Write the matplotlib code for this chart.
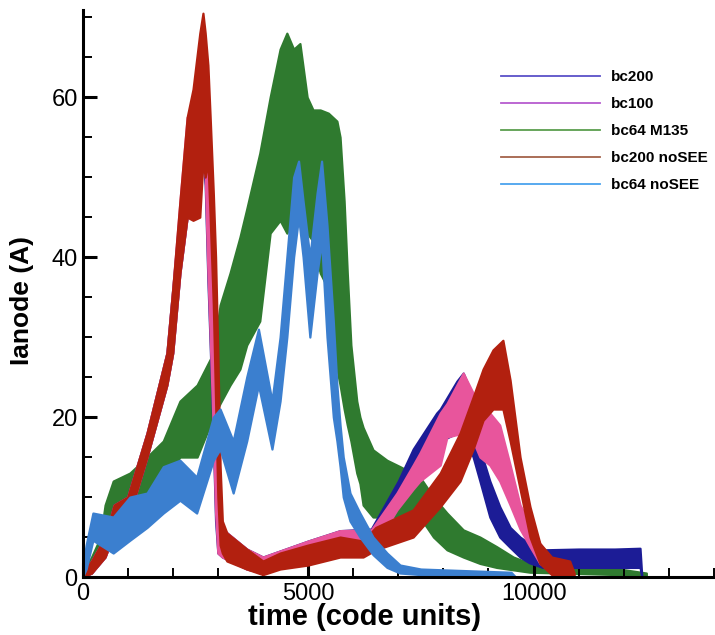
import matplotlib
matplotlib.use("Agg")
import matplotlib.pyplot as plt
from matplotlib.lines import Line2D
from matplotlib.ticker import MultipleLocator

plt.rcParams['font.family'] = ['Liberation Sans', 'DejaVu Sans']

# ---------------- data (envelopes of the noisy signals) -------------
# bc200 noSEE (red)
red_t  = [0, 200, 500, 700, 1000, 1430, 1870, 2000, 2160, 2320, 2450, 2600, 2670, 2720, 2780,
          2830, 2900, 2950, 3000, 3050, 3100, 3200, 3640, 4000, 4380, 5000, 5710, 6220, 6500,
          7330, 7930, 8370, 8660, 8880, 9100, 9320, 9480, 9700, 9920, 10140, 10400, 10800, 10900]
red_lo = [0, 0.5, 2.5, 5.5, 7, 15, 24, 28, 38, 45, 44.6, 45, 52, 50, 52,
          45, 34, 22, 10, 4, 3, 2, 1, 0.3, 1, 1.5, 2.5, 2.5, 3.4,
          5, 8.8, 12, 16, 19.6, 21, 21, 17, 11, 5, 1.7, 0.3, 0.2, 0]
red_hi = [0.5, 2, 5, 9, 10, 18, 28, 36, 47, 57.5, 61, 68, 70.5, 68, 64,
          57.5, 48, 40, 28, 14, 7, 5.5, 3.5, 2, 3, 4, 5, 4.5, 6.2,
          8.4, 13, 18, 22.5, 26, 28.4, 29.6, 24.6, 15, 8.8, 4.2, 2.5, 2, 0.5]

# bc100 (pink)
pink_t  = [0, 200, 500, 700, 1000, 1430, 1870, 2000, 2160, 2320, 2450, 2600, 2670, 2720, 2780,
           2830, 2900, 2950, 3000, 3100, 3640, 4000, 4500, 5000, 5710, 6400, 6600, 6970, 7330,
           7480, 7930, 8080, 8440, 8660, 8810, 9030, 9250, 9480, 9700, 9920, 10140, 10370, 10500]
pink_lo = [0, 0.5, 2.5, 5.5, 7, 15, 24, 28, 38, 45, 45, 50, 52, 50, 38,
           30, 18, 8, 3, 2.5, 1, 0.5, 1.5, 2.5, 3.5, 3.5, 5, 8.4, 11,
           12, 14, 17.5, 18, 17, 15, 14, 12, 9, 6, 3.8, 1.7, 1, 0.3]
pink_hi = [0.5, 2, 5, 9, 10, 18, 28, 36, 47, 57.5, 58, 58, 59, 57, 52,
           42, 32, 20, 9, 6, 3.5, 2.5, 3.5, 4.5, 5.8, 5.9, 7.5, 10.5, 14,
           15.5, 20.5, 21.7, 25.5, 23, 21, 20.5, 19, 14, 9, 6.7, 4.2, 2.5, 1]

# bc200 (dark blue)
navy_t  = [0, 200, 500, 700, 1000, 1430, 1870, 2000, 2160, 2320, 2450, 2600, 2670, 2720, 2780,
           2830, 2900, 2950, 3000, 3100, 3640, 4000, 4500, 5000, 5710, 6400, 6600, 7000, 7330,
           7850, 7930, 8300, 8440, 8660, 8810, 9030, 9250, 9480, 9700, 9900, 10200, 11000,
           11800, 12360, 12400]
navy_lo = [0, 0.5, 2.5, 5.5, 7, 15, 24, 28, 38, 45, 45, 50, 52, 49, 37,
           29, 17, 7, 3, 2.5, 1, 0.5, 1.5, 2.5, 3.5, 3.5, 5, 9, 12,
           16, 17, 18, 18, 15, 12, 7.5, 5, 3.7, 2.5, 1.8, 1.2, 1.2,
           1.2, 1.2, 0]
navy_hi = [0.5, 2, 5, 9, 10, 18, 28, 36, 46, 56, 57, 57, 57.5, 55, 50,
           41, 30, 19, 8, 6, 3.5, 2.5, 3.5, 4.5, 5.8, 6, 8, 12, 16,
           20.5, 21, 24.5, 25.5, 22.5, 16, 12, 8.8, 6.2, 5, 4.2, 3.4, 3.5,
           3.5, 3.6, 0]

# bc64 M135 (green)
green_t  = [0, 200, 400, 500, 680, 1050, 1430, 1790, 2160, 2540, 2900, 3050, 3270, 3490, 3640,
            3930, 4160, 4380, 4530, 4680, 4820, 4980, 5110, 5270, 5450, 5640, 5710, 5800, 5870,
            5950, 6080, 6150, 6220, 6440, 6750, 7040, 7480, 7780, 8080, 8440, 8810, 9180, 9550,
            9920, 10600, 11900, 12500]
green_lo = [0, 0.5, 2, 3, 7, 8, 10, 12, 15, 15, 20, 21.7, 24, 26, 29,
            32, 43, 44.6, 43, 45, 45, 43, 42, 38, 36, 26, 24, 21, 19,
            17, 13, 11.7, 9, 7.5, 7.5, 7.5, 7.5, 5, 3.4, 2.5, 1.7, 1.2, 0.9,
            0.6, 0.5, 0.3, 0]
green_hi = [0.5, 2.5, 5, 9, 12, 13, 15, 17, 22, 24, 28, 34, 38, 42.5, 46,
            53, 60, 66, 68, 66, 66.7, 60, 58.4, 58.4, 58, 57, 55, 47, 38,
            29, 22, 20, 18.7, 15.9, 14.6, 13.8, 12.5, 10, 8, 5.9, 5, 3.8, 2.5,
            1.7, 1.2, 1, 0.5]

# bc64 noSEE (light blue)
lblue_t  = [0, 80, 230, 680, 1050, 1430, 1790, 2160, 2530, 2900, 3050, 3340, 3640, 3900, 4200,
            4380, 4530, 4680, 4790, 4890, 5040, 5200, 5300, 5420, 5560, 5640, 5710, 5780, 5930,
            6150, 6440, 6750, 7040, 7500, 9500, 9600]
lblue_lo = [0, 1, 4.6, 3, 4.6, 6.2, 8, 9.6, 8, 14.6, 16, 10.5, 17, 24, 16,
            22, 30, 40, 45, 40, 30, 38, 42, 30, 20, 17, 13.8, 10, 7,
            5, 2.8, 1.2, 0.5, 0.3, 0.1, 0]
lblue_hi = [1, 4, 8, 7.5, 10, 10.5, 13.8, 14.6, 12.5, 20, 21, 17, 25, 31, 22,
            30, 40, 50, 52, 47, 40, 48, 52, 44, 32, 24, 19, 15, 10.5,
            8, 5, 3, 1.5, 1, 0.6, 0]

series = [
    # label, t, lo, hi, fill colour, legend colour, zorder
    ("bc200",       navy_t,  navy_lo,  navy_hi,  "#1c1c96", "#5a50c8", 2),
    ("bc100",       pink_t,  pink_lo,  pink_hi,  "#e8559c", "#b65ccf", 3),
    ("bc64 M135",   green_t, green_lo, green_hi, "#2f7a2f", "#5a9e4e", 1),
    ("bc200 noSEE", red_t,   red_lo,   red_hi,   "#b2200f", "#a4624a", 4),
    ("bc64 noSEE",  lblue_t, lblue_lo, lblue_hi, "#3b7fcf", "#4aa3ee", 5),
]

x_ticks = [0, 5000, 10000]
y_ticks = [0, 20, 40, 60]

# ---------------- figure ----------------
fig = plt.figure(figsize=(7.15, 6.35), dpi=100)
ax = fig.add_axes([0.1154, 0.0913, 0.8832, 0.8930])

for label, t, lo, hi, fc, lc, z in series:
    ax.fill_between(t, lo, hi, color=fc, lw=1.6, edgecolor=fc, zorder=z,
                    joinstyle='round')

ax.set_xlim(0, 14000)
ax.set_ylim(0, 70.9)
ax.set_xticks(x_ticks)
ax.set_yticks(y_ticks)
ax.xaxis.set_minor_locator(MultipleLocator(1000))
ax.yaxis.set_minor_locator(MultipleLocator(5))

for s in ['top', 'right']:
    ax.spines[s].set_visible(False)
for s in ['left', 'bottom']:
    ax.spines[s].set_linewidth(2.2)
    ax.spines[s].set_zorder(10)

ax.tick_params(which='major', direction='in', length=10, width=2.2, labelsize=17, pad=4)
ax.tick_params(axis='y', which='major', pad=3.5)
ax.tick_params(which='minor', direction='in', length=6.5, width=1.4)

ax.set_xlabel("time (code units)", fontsize=21, fontweight='bold')
ax.set_ylabel("Ianode (A)", fontsize=19, fontweight='bold')
ax.xaxis.set_label_coords(0.447, -0.046)
ax.yaxis.set_label_coords(-0.077, 0.487)

handles = [Line2D([0], [0], color=lc, lw=1.3) for (_, _, _, _, _, lc, _) in series]
labels = [s[0] for s in series]
leg = ax.legend(handles, labels, loc='upper left', bbox_to_anchor=(0.643, 0.915),
                frameon=False, handlelength=6.5, handletextpad=0.7, labelspacing=0.85,
                borderpad=0.3, prop={'weight': 'bold', 'size': 11})

fig.savefig("out.png", dpi=100)
